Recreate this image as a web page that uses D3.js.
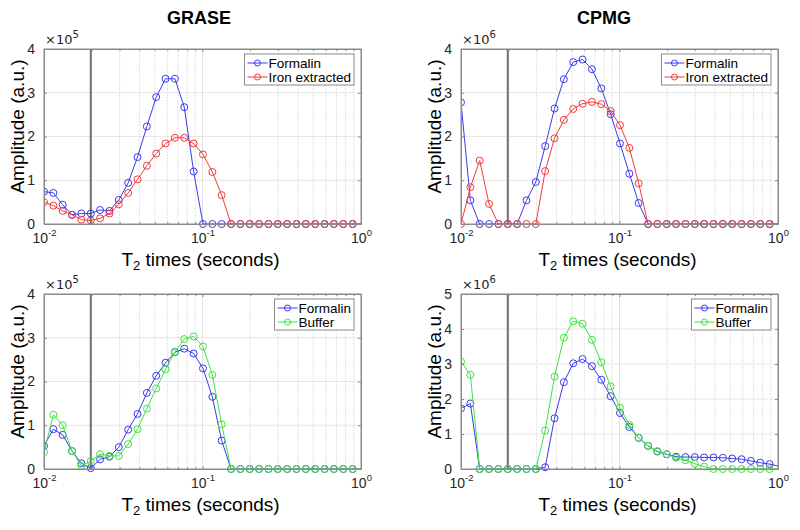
<!DOCTYPE html>
<html><head><meta charset="utf-8">
<script src="https://cdn.jsdelivr.net/npm/d3@7"></script>
<style>body{margin:0;background:#fff} svg{display:block}</style>
</head><body>
<svg id="c" width="800" height="530"></svg>
<script>
// T2 grid (seconds)
const T2 = [0.01, 0.01146, 0.01312, 0.01503, 0.01722, 0.01973, 0.02259, 0.02588, 0.02965, 0.03396,
  0.03891, 0.04457, 0.05105, 0.05848, 0.06699, 0.07674, 0.08791, 0.1007, 0.1154, 0.1321,
  0.1514, 0.1734, 0.1986, 0.2275, 0.2607, 0.2986, 0.3420, 0.3918, 0.4488, 0.5141,
  0.5890, 0.6747, 0.7728, 0.8853, 1.0142, 1.1618];

// GRASE, Formalin vs Iron extracted (x10^5)
const graseFormalinA = [0.74,0.71,0.44,0.21,0.24,0.24,0.32,0.30,0.55,0.94,1.53,2.23,2.90,3.32,3.32,2.67,1.20,0,0,0,0,0,0,0,0,0,0,0,0,0,0,0,0,0,0,0];
const graseIron      = [0.50,0.42,0.30,0.21,0.10,0.08,0.13,0.24,0.45,0.71,1.02,1.33,1.61,1.84,1.97,1.97,1.84,1.59,1.19,0.66,0,0,0,0,0,0,0,0,0,0,0,0,0,0,0,0];
// CPMG, Formalin vs Iron extracted (x10^6)
const cpmgFormalinA  = [2.78,0.54,0,0,0,0,0,0.54,0.96,1.78,2.64,3.31,3.70,3.76,3.54,3.10,2.51,1.84,1.15,0.48,0,0,0,0,0,0,0,0,0,0,0,0,0,0,0,0];
const cpmgIron       = [0,0.84,1.45,0.46,0,0,0,0,0,1.21,1.96,2.38,2.63,2.75,2.79,2.74,2.58,2.26,1.74,0.93,0,0,0,0,0,0,0,0,0,0,0,0,0,0,0,0];
// GRASE, Formalin vs Buffer (x10^5)
const graseFormalinB = [0.53,0.91,0.78,0.41,0.13,0.02,0.22,0.28,0.50,0.90,1.26,1.74,2.13,2.43,2.67,2.75,2.64,2.30,1.65,0.65,0,0,0,0,0,0,0,0,0,0,0,0,0,0,0,0];
const graseBuffer    = [0.39,1.24,1.00,0.41,0.07,0.18,0.34,0.30,0.30,0.57,0.91,1.38,1.84,2.28,2.68,2.97,3.03,2.80,2.15,1.02,0,0,0,0,0,0,0,0,0,0,0,0,0,0,0,0];
// CPMG, Formalin vs Buffer (x10^6)
const cpmgFormalinB  = [1.73,1.87,0,0,0,0,0,0,0,0.05,1.45,2.48,3.02,3.14,2.94,2.55,2.08,1.60,1.20,0.89,0.66,0.50,0.42,0.35,0.34,0.34,0.33,0.33,0.32,0.30,0.28,0.23,0.18,0.14,0.08,0.03];
const cpmgBuffer     = [3.07,2.69,0,0,0,0,0,0,0,1.10,2.64,3.75,4.22,4.15,3.69,3.05,2.36,1.75,1.26,0.89,0.66,0.51,0.42,0.32,0.25,0.15,0.07,0,0,0,0,0,0,0,0,0];

const xTicks = [0.01, 0.1, 1];
const xTickExp = ["-2", "-1", "0"];
const cutoffT2 = 0.01973;
const titles = ["GRASE", "CPMG"];
const xLabel = "times (seconds)";
const yLabel = "Amplitude (a.u.)";
const BLUE = "#3a3af2", RED = "#f23a3a", GREEN = "#3ee43e";

const panels = [
  {title: titles[0], tx: 199, x0: 44, x1: 361, y0: 49, y1: 224, ymax: 4, exp: "5",
   series: [{name: "Formalin", v: graseFormalinA, c: BLUE}, {name: "Iron extracted", v: graseIron, c: RED}]},
  {title: titles[1], tx: 604, x0: 461, x1: 778, y0: 49, y1: 224, ymax: 4, exp: "6",
   series: [{name: "Formalin", v: cpmgFormalinA, c: BLUE}, {name: "Iron extracted", v: cpmgIron, c: RED}]},
  {title: null, x0: 44, x1: 361, y0: 294, y1: 469, ymax: 4, exp: "5",
   series: [{name: "Formalin", v: graseFormalinB, c: BLUE}, {name: "Buffer", v: graseBuffer, c: GREEN}]},
  {title: null, x0: 461, x1: 778, y0: 294, y1: 469, ymax: 5, exp: "6",
   series: [{name: "Formalin", v: cpmgFormalinB, c: BLUE}, {name: "Buffer", v: cpmgBuffer, c: GREEN}]}
];

const svg = d3.select("#c");
const FONT = "'Liberation Sans', Arial, sans-serif";
const TICKFONT = "'Liberation Sans', Arial, sans-serif";
const EXPFONT = "'DejaVu Sans', sans-serif";
const defs = svg.append("defs");

panels.forEach((p, pi) => {
  const x = d3.scaleLog().domain([0.01, 1]).range([p.x0, p.x1]);
  const y = d3.scaleLinear().domain([0, p.ymax]).range([p.y1, p.y0]);
  const g = svg.append("g");
  const cid = "clip" + pi;
  defs.append("clipPath").attr("id", cid).append("rect")
    .attr("x", p.x0).attr("y", p.y0 - 6).attr("width", p.x1 - p.x0).attr("height", p.y1 - p.y0 + 12);

  g.append("rect").attr("x", p.x0).attr("y", p.y0).attr("width", p.x1 - p.x0).attr("height", p.y1 - p.y0).attr("fill", "#fff");

  // minor vertical grid
  const minors = [];
  [0.01, 0.1].forEach(d => { for (let k = 2; k <= 9; k++) minors.push(d * k); });
  g.append("g").selectAll("line").data(minors).join("line")
    .attr("x1", d => x(d)).attr("x2", d => x(d)).attr("y1", p.y0).attr("y2", p.y1)
    .attr("stroke", "#e2e2e2").attr("stroke-width", 1).attr("stroke-dasharray", "2,1");
  g.append("g").selectAll("line").data([0.1]).join("line")
    .attr("x1", d => x(d)).attr("x2", d => x(d)).attr("y1", p.y0).attr("y2", p.y1)
    .attr("stroke", "#e0e0e0").attr("stroke-width", 1);
  g.append("g").selectAll("line").data(d3.range(1, p.ymax)).join("line")
    .attr("x1", p.x0).attr("x2", p.x1).attr("y1", d => y(d)).attr("y2", d => y(d))
    .attr("stroke", "#e6e6e6").attr("stroke-width", 1);

  // cutoff line
  g.append("line").attr("x1", x(cutoffT2)).attr("x2", x(cutoffT2)).attr("y1", p.y0).attr("y2", p.y1)
    .attr("stroke", "#707070").attr("stroke-width", 2);

  // series
  const plot = g.append("g").attr("clip-path", `url(#${cid})`);
  p.series.forEach(s => {
    const pts = T2.map((t, i) => [t, s.v[i]]);
    plot.append("path").datum(pts)
      .attr("d", d3.line().x(d => x(d[0])).y(d => y(d[1])))
      .attr("fill", "none").attr("stroke", s.c).attr("stroke-width", 1);
    plot.append("g").selectAll("circle").data(pts.filter(d => d[0] <= 1)).join("circle")
      .attr("cx", d => x(d[0])).attr("cy", d => y(d[1])).attr("r", 3.5)
      .attr("fill", "none").attr("stroke", s.c).attr("stroke-width", 1);
  });

  // axes
  const axCol = "#8a8a8a";
  const yAxL = d3.axisLeft(y).tickValues(d3.range(0, p.ymax + 1)).tickSizeInner(-3).tickSizeOuter(0).tickPadding(9).tickFormat(d3.format("d"));
  const yAxR = d3.axisRight(y).tickValues(d3.range(0, p.ymax + 1)).tickSizeInner(-3).tickSizeOuter(0).tickFormat("");
  const xAxB = d3.axisBottom(x).tickValues(xTicks).tickSizeInner(-3).tickSizeOuter(0).tickFormat("");
  const xAxT = d3.axisTop(x).tickValues(xTicks).tickSizeInner(-3).tickSizeOuter(0).tickFormat("");
  const xMinB = d3.axisBottom(x).tickValues(minors).tickSizeInner(-2).tickSizeOuter(0).tickFormat("");
  const xMinT = d3.axisTop(x).tickValues(minors).tickSizeInner(-2).tickSizeOuter(0).tickFormat("");

  const gl = g.append("g").attr("transform", `translate(${p.x0},0)`).call(yAxL);
  g.append("g").attr("transform", `translate(${p.x1},0)`).call(yAxR);
  const gb = g.append("g").attr("transform", `translate(0,${p.y1})`).call(xAxB);
  g.append("g").attr("transform", `translate(0,${p.y0})`).call(xAxT);
  g.append("g").attr("transform", `translate(0,${p.y1})`).call(xMinB);
  g.append("g").attr("transform", `translate(0,${p.y0})`).call(xMinT);
  g.selectAll(".domain").attr("stroke", axCol);
  g.selectAll(".tick line").attr("stroke", axCol);
  gl.selectAll("text").attr("font-family", TICKFONT).attr("font-size", 14).attr("fill", "#262626");

  // x tick labels with superscripts
  gb.selectAll(".tick").each(function(d) {
    const t = d3.select(this).append("text").attr("font-family", TICKFONT).attr("font-size", 14)
      .attr("fill", "#262626").attr("y", 19).attr("text-anchor", "middle");
    t.append("tspan").text("10");
    t.append("tspan").attr("font-size", 9.5).attr("dy", -7).text(xTickExp[xTicks.indexOf(d)]);
  });

  // box
  g.append("rect").attr("x", p.x0).attr("y", p.y0).attr("width", p.x1 - p.x0).attr("height", p.y1 - p.y0)
    .attr("fill", "none").attr("stroke", axCol).attr("stroke-width", 1);

  // exponent label
  const ex = g.append("text").attr("x", p.x0 + 1).attr("y", p.y0 - 5)
    .attr("font-family", EXPFONT).attr("font-size", 13).attr("fill", "#262626");
  ex.append("tspan").text("\u00d710");
  ex.append("tspan").attr("font-size", 10).attr("dy", -6).text(p.exp);

  if (p.title) {
    g.append("text").attr("x", p.tx).attr("y", 24).attr("text-anchor", "middle")
      .attr("font-family", FONT).attr("font-weight", "bold").attr("font-size", 18).attr("fill", "#000")
      .text(p.title);
  }

  // x label
  const xl = g.append("text").attr("x", (p.x0 + p.x1) / 2 - 2).attr("y", p.y1 + 42).attr("text-anchor", "middle")
    .attr("font-family", FONT).attr("font-size", 19).attr("fill", "#000");
  xl.append("tspan").text("T");
  xl.append("tspan").attr("font-size", 13).attr("dy", 4).text("2");
  xl.append("tspan").attr("dy", -4).text(" " + xLabel);

  // y label
  g.append("text").attr("transform", `translate(${p.x0 - 20},${(p.y0 + p.y1) / 2 - 10}) rotate(-90)`)
    .attr("text-anchor", "middle").attr("font-family", FONT).attr("font-size", 19).attr("fill", "#000")
    .text(yLabel);

  // legend
  const lg = g.append("g");
  const lt = lg.selectAll("text").data(p.series).join("text")
    .attr("font-family", FONT).attr("font-size", 13.5).attr("fill", "#000").text(d => d.name);
  const tw = d3.max(lt.nodes(), n => n.getComputedTextLength());
  const bw = 24 + tw + 3, bh = 31;
  const bx = p.x1 - 7 - bw, by = p.y0 + 5;
  lg.insert("rect", "text").attr("x", bx).attr("y", by).attr("width", bw).attr("height", bh)
    .attr("fill", "#fff").attr("stroke", "#8a8a8a").attr("stroke-width", 1);
  lt.attr("x", bx + 24).attr("y", (d, i) => by + 9 + i * 14 + 5);
  p.series.forEach((s, i) => {
    const cy = by + 9 + i * 14;
    lg.append("line").attr("x1", bx + 3).attr("x2", bx + 23).attr("y1", cy).attr("y2", cy).attr("stroke", s.c);
    lg.append("circle").attr("cx", bx + 13).attr("cy", cy).attr("r", 3).attr("fill", "none").attr("stroke", s.c);
  });
});
</script>
</body></html>
